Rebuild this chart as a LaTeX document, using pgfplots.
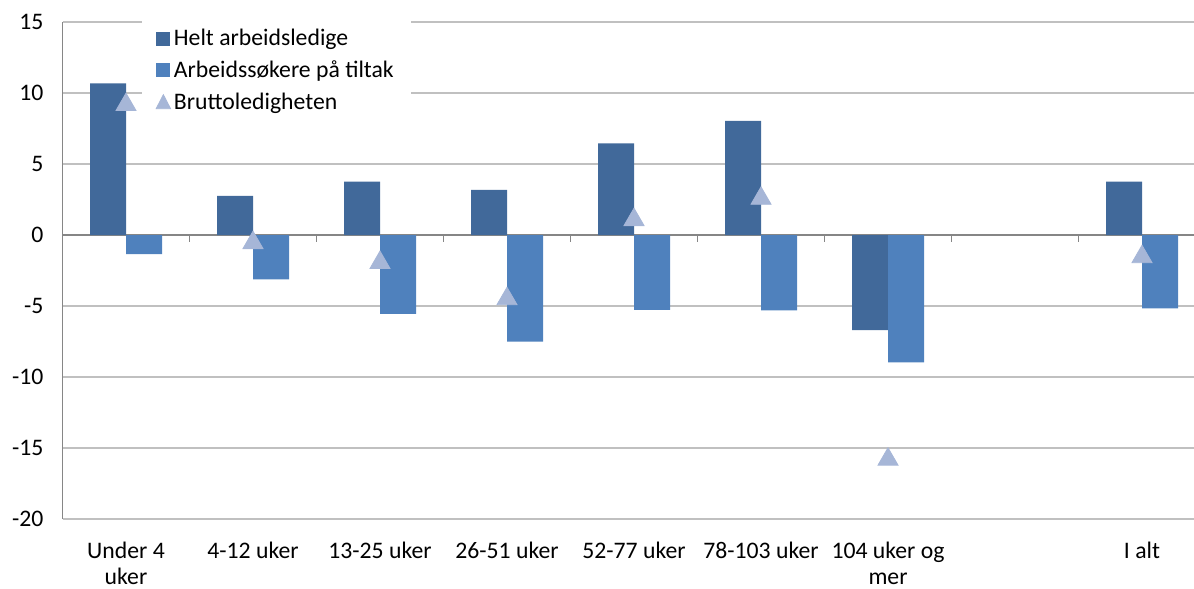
\documentclass[border=0pt]{standalone}
\usepackage{pgfplots}
\pgfplotsset{compat=1.18}
\usepackage{fontspec}
\setmainfont{Carlito}
\usetikzlibrary{calc}
\definecolor{darkbar}{HTML}{41699A}
\definecolor{lightbar}{HTML}{4F81BD}
\definecolor{tri}{HTML}{A6B6D7}
\definecolor{gridc}{HTML}{C0C0C0}
\definecolor{axisc}{HTML}{868686}
\begin{document}
\begin{tikzpicture}
\begin{axis}[
  scale only axis, width=571.5bp, height=248.5bp,
  xmin=-0.5, xmax=8.5, ymin=-20, ymax=15,
  ytick={-20,-15,...,15},
  xtick={0,...,8},
  xticklabels={{Under 4\\uker},{4-12 uker},{13-25 uker},{26-51 uker},{52-77 uker},{78-103 uker},{104 uker og\\mer},{},{I alt}},
  axis lines*=left,
  x axis line style={gridc, line width=0.9bp},
  y axis line style={axisc, line width=0.9bp},
  xtick style={draw=none}, ytick style={draw=none},
  ymajorgrids, grid style={gridc, line width=0.9bp},
  /pgf/number format/assume math mode=true,
  tick label style={font=\fontsize{11.9}{13}\selectfont, text=black},
  yticklabel style={xshift=-6bp},
  xticklabel style={align=center, yshift=-7.8bp},
  legend style={at={(axis description cs:0.069,1.005)}, anchor=north west,
    draw=none, fill=white, font=\fontsize{11.9}{13}\selectfont, row sep=3.1bp,
    inner xsep=7bp, inner ysep=3bp, nodes={inner sep=1.5bp}},
  legend cell align=left,
]
\coordinate (BL) at (rel axis cs:0,0);
\coordinate (TR) at (rel axis cs:1,1);
\draw[axisc, line width=1.1bp] (axis cs:-0.5,0) -- (axis cs:8.5,0);
\pgfplotsinvokeforeach{0.5,1.5,2.5,3.5,4.5,5.5,6.5,7.5}{
  \draw[axisc, line width=0.9bp] (axis cs:#1,0) -- ([yshift=-3.5bp]axis cs:#1,0);
}
\addplot[ybar, bar width=18bp, bar shift=-9bp, fill=darkbar, draw=none,
  legend image code/.code={\fill[darkbar] (0bp,-3.5bp) rectangle (7bp,3.5bp);}]
  coordinates {(0,10.68) (1,2.75) (2,3.75) (3,3.17) (4,6.46) (5,8.03) (6,-6.69) (8,3.75)};
\addlegendentry{Helt arbeidsledige}
\addplot[ybar, bar width=18bp, bar shift=9bp, fill=lightbar, draw=none,
  legend image code/.code={\fill[lightbar] (0bp,-3.5bp) rectangle (7bp,3.5bp);}]
  coordinates {(0,-1.34) (1,-3.12) (2,-5.55) (3,-7.51) (4,-5.28) (5,-5.3) (6,-8.97) (8,-5.17)};
\addlegendentry{Arbeidssøkere på tiltak}
\addplot[only marks, mark=triangle*, mark size=5.8bp, color=tri, mark options={draw=tri, fill=tri},
  legend image code/.code={\fill[tri] (0bp,-3.2bp) -- (7.2bp,-3.2bp) -- (3.6bp,3.8bp) -- cycle;}]
  coordinates {(0,9.17) (1,-0.55) (2,-1.95) (3,-4.5) (4,1.07) (5,2.57) (6,-15.8) (8,-1.54)};
\addlegendentry{Bruttoledigheten}
\end{axis}
\pgfresetboundingbox
\path ($(BL)+(-31.25bp,-34.5bp)$) rectangle ($(TR)+(-5.75bp,11bp)$);
\end{tikzpicture}
\end{document}
